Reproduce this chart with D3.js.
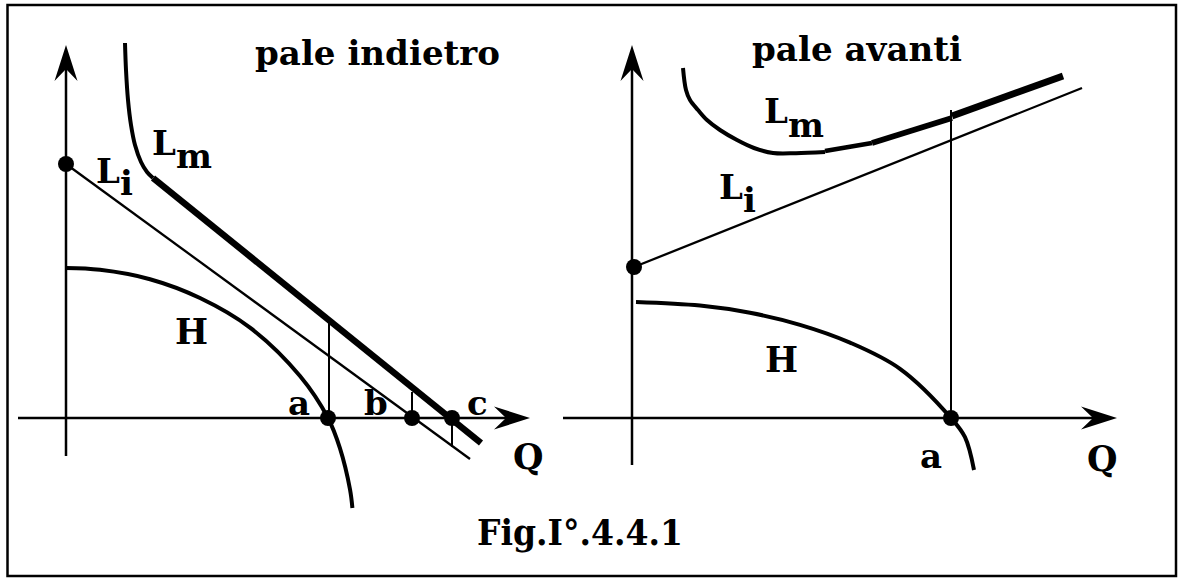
<!DOCTYPE html>
<html>
<head>
<meta charset="utf-8">
<script src="https://cdn.jsdelivr.net/npm/d3@7"></script>
<style>
  html, body { margin: 0; padding: 0; background: #fff; }
  svg { display: block; }
  text { font-family: "DejaVu Serif", "Liberation Serif", serif; font-weight: bold; fill: #000; }
</style>
</head>
<body>
<svg id="chart" width="1182" height="582"></svg>
<script>
// ---------------- DATA (axis units: Q horizontal, value vertical) ----------------
// Left panel: "pale indietro" (backward-curved blades)
const leftH = [[0, 37.5], [8.5, 37.05], [21, 34.7], [33.5, 30], [46, 22.6], [58.5, 10.5], [65.5, 0], [68.5, -7.6], [71, -17.85], [71.6, -22.5]];
const leftLi = [[0, 63.5], [101, -10.25]];
const leftLmCurve = [[14.75, 93.75], [15, 87], [15.5, 79.5], [16.25, 73.25], [17.25, 68.25], [18.75, 64], [20.25, 61.5], [21.75, 60]];
const leftLmLine = [[21.75, 60], [103.75, -6.25]];
const leftVerticals = [[[65.75, 0], [65.75, 24]], [[86.5, 0], [86.5, 6.5]], [[96.5, 0], [96.5, -7.25]]];
const leftDots = [[0, 63.5], [65.5, 0], [86.5, 0], [96.5, 0]];
const leftPointLabels = ["a", "b", "c"];
const leftAxisX = [-12, 116];
const leftAxisY = [-9.5, 93.25];

// Right panel: "pale avanti" (forward-curved blades)
const rightH = [[1, 29], [17, 28.1], [29.5, 26.3], [42, 23.3], [54.5, 18.85], [67, 12.3], [79.75, 0], [83.25, -4.8], [85.5, -13]];
const rightLi = [[0.5, 37.75], [112.5, 82.5]];
const rightLmCurve = [[12.75, 87.5], [13.5, 82], [14.5, 79.5], [16.5, 77], [18.75, 74.5], [22, 72], [26.25, 69.5], [30.5, 67.5], [35.25, 66.25], [41, 66.2], [48.25, 66.5]];
const rightLmSeg2 = [[48.25, 66.75], [60, 68.75]];
const rightLmSeg3 = [[60, 68.75], [80, 75]];
const rightLmSeg4 = [[80, 75.5], [107.75, 85.5]];
const rightVertical = [[79.75, 0], [79.75, 77]];
const rightDots = [[0.5, 37.75], [79.75, 0]];
const rightAxisX = [-17.25, 121.25];
const rightAxisY = [-11.75, 93.25];

const titles = ["pale indietro", "pale avanti"];
const caption = "Fig.I°.4.4.1";

// ---------------- DRAWING ----------------
const svg = d3.select("#chart");

svg.append("rect").attr("x", 7.5).attr("y", 5).attr("width", 1168.5).attr("height", 571)
  .attr("fill", "none").attr("stroke", "#000").attr("stroke-width", 2.5);

const xL = d3.scaleLinear().domain([0, 100]).range([66, 466]);
const yL = d3.scaleLinear().domain([0, 100]).range([418, 18]);
const xR = d3.scaleLinear().domain([0, 100]).range([632, 1032]);
const yR = d3.scaleLinear().domain([0, 100]).range([418, 18]);

function drawPanel(g, x, y, axX, axY) {
  g.append("line").attr("x1", x(axX[0])).attr("x2", x(axX[1]) - 10).attr("y1", y(0)).attr("y2", y(0))
    .attr("stroke", "#000").attr("stroke-width", 2.5);
  g.append("line").attr("x1", x(0)).attr("x2", x(0)).attr("y1", y(axY[0])).attr("y2", y(axY[1]) + 10)
    .attr("stroke", "#000").attr("stroke-width", 2.5);
  const tx = x(axX[1]), ty = y(0);
  g.append("path").attr("d", `M${tx},${ty} L${tx - 36},${ty - 11.5} L${tx - 24},${ty} L${tx - 36},${ty + 11.5} Z`).attr("fill", "#000");
  const ux = x(0), uy = y(axY[1]);
  g.append("path").attr("d", `M${ux},${uy} L${ux - 11.5},${uy + 36} L${ux},${uy + 24} L${ux + 11.5},${uy + 36} Z`).attr("fill", "#000");
}

function curve(g, x, y, pts, w, c) {
  const line = d3.line().x(d => x(d[0])).y(d => y(d[1])).curve(c || d3.curveLinear);
  g.append("path").attr("d", line(pts)).attr("fill", "none").attr("stroke", "#000")
    .attr("stroke-width", w).attr("stroke-linejoin", "round");
}

function dots(g, x, y, pts) {
  g.selectAll(null).data(pts).enter().append("circle")
    .attr("cx", d => x(d[0])).attr("cy", d => y(d[1])).attr("r", 8).attr("fill", "#000");
}

function label(g, px, py, main, sub, subDy, size) {
  const t = g.append("text").attr("x", px).attr("y", py).attr("font-size", size || 33);
  t.append("tspan").text(main);
  if (sub) t.append("tspan").attr("dy", subDy).text(sub);
  return t;
}

// Left panel
const gL = svg.append("g");
drawPanel(gL, xL, yL, leftAxisX, leftAxisY);
curve(gL, xL, yL, leftH, 4, d3.curveCatmullRom);
curve(gL, xL, yL, leftLi, 2.3);
curve(gL, xL, yL, leftLmCurve, 4, d3.curveCatmullRom);
curve(gL, xL, yL, leftLmLine, 6.5);
leftVerticals.forEach(v => curve(gL, xL, yL, v, 2));
dots(gL, xL, yL, leftDots);

label(gL, 255, 65, titles[0]).attr("textLength", 245).attr("lengthAdjust", "spacingAndGlyphs").attr("font-size", 34);
label(gL, 152, 155, "L", "m", 13, 34);
label(gL, 96, 183, "L", "i", 12, 34);
label(gL, 175, 344, "H", null, 0, 35);
label(gL, 288, 415, leftPointLabels[0], null, 0, 34);
label(gL, 364, 415, leftPointLabels[1], null, 0, 34);
label(gL, 467, 415, leftPointLabels[2], null, 0, 34);
label(gL, 513, 469, "Q", null, 0, 35);

// Right panel
const gR = svg.append("g");
drawPanel(gR, xR, yR, rightAxisX, rightAxisY);
curve(gR, xR, yR, rightH, 4, d3.curveCatmullRom);
curve(gR, xR, yR, rightLi, 2.3);
curve(gR, xR, yR, rightLmCurve, 4, d3.curveCatmullRom);
curve(gR, xR, yR, rightLmSeg2, 4.8);
curve(gR, xR, yR, rightLmSeg3, 5.8);
curve(gR, xR, yR, rightLmSeg4, 6.8);
curve(gR, xR, yR, rightVertical, 2);
dots(gR, xR, yR, rightDots);

label(gR, 752, 61, titles[1]).attr("textLength", 210).attr("lengthAdjust", "spacingAndGlyphs").attr("font-size", 34);
label(gR, 764, 123, "L", "m", 14, 34);
label(gR, 719, 199, "L", "i", 13, 34);
label(gR, 765, 372, "H", null, 0, 35);
label(gR, 920, 468, "a", null, 0, 34);
label(gR, 1087, 471, "Q", null, 0, 35);

// Caption
label(svg, 477, 545, caption).attr("textLength", 206).attr("lengthAdjust", "spacingAndGlyphs").attr("font-size", 35);
</script>
</body>
</html>
